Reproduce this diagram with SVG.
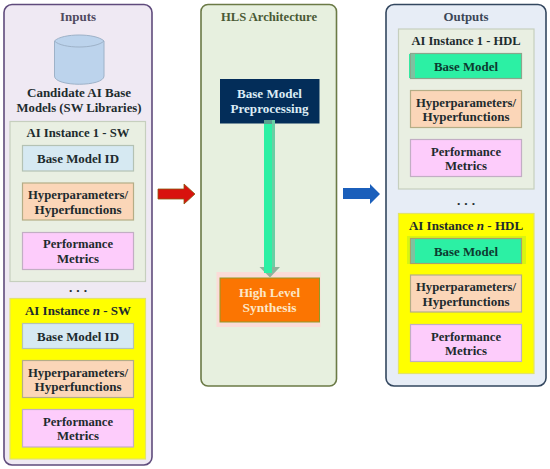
<svg xmlns="http://www.w3.org/2000/svg" width="550" height="469" viewBox="0 0 550 469">
<style>
text{font-family:"Liberation Serif","DejaVu Serif",serif;font-weight:bold;font-size:13.5px;text-anchor:middle;fill:#1d2b2e}
.panel{stroke-width:1.6}
.inst{fill:#e9efe2;stroke:#c6cfbe;stroke-width:1.2}
.instn{fill:#ffff00;stroke:#e3e36a;stroke-width:1.2}
.id{fill:#d6e9f2;stroke:#b4c2b4;stroke-width:1.2}
.hyp{fill:#fbd6b8;stroke:#b5ad86;stroke-width:1.2}
.perf{fill:#fdccfb;stroke:#c2aec4;stroke-width:1.2}
.bm{fill:#2cf0a4;stroke:#8aa68c;stroke-width:1.2}
.it{font-size:13px}
</style>
<g id="inputs">
<rect class="panel" x="4" y="4.500" width="148" height="460.500" rx="8" fill="#efe9f3" stroke="#5f4b7c"/>
<text x="78" y="21" textLength="36" lengthAdjust="spacingAndGlyphs" style="fill:#4f4a60">Inputs</text>
</g>
<g id="cylinder">
<path d="M54.500 41C62 33 96 33 104 41V76C104 87 54.500 87 54.500 76Z" fill="#bcd3ec" stroke="#9eb2c8" stroke-width="1"/>
<path d="M54.500 41C62 49 96 49 104 41" fill="none" stroke="#9eb2c8" stroke-width="1"/>
<text x="79" y="97" textLength="104" lengthAdjust="spacingAndGlyphs">Candidate AI Base</text>
<text x="79" y="111.500" textLength="125" lengthAdjust="spacingAndGlyphs">Models (SW Libraries)</text>
</g>
<g id="instance-1-sw">
<rect class="inst" x="10" y="121.500" width="135.500" height="160"/>
<text x="78" y="137" textLength="103" lengthAdjust="spacingAndGlyphs">AI Instance 1 - SW</text>
<rect class="id" x="22.500" y="145.500" width="111" height="25.500"/>
<text x="78" y="163" textLength="82" lengthAdjust="spacingAndGlyphs">Base Model ID</text>
<rect class="hyp" x="22.500" y="183" width="111" height="37"/>
<text x="78" y="199" textLength="100" lengthAdjust="spacingAndGlyphs">Hyperparameters/</text>
<text x="78" y="213.500" textLength="87" lengthAdjust="spacingAndGlyphs">Hyperfunctions</text>
<rect class="perf" x="22.500" y="232.500" width="111" height="37"/>
<text x="78" y="248" textLength="70" lengthAdjust="spacingAndGlyphs">Performance</text>
<text x="78" y="262.500" textLength="42" lengthAdjust="spacingAndGlyphs">Metrics</text>
</g>
<text x="78" y="292" textLength="18">. . .</text>
<g id="instance-n-sw">
<rect class="instn" x="10" y="298.500" width="135.500" height="160.500"/>
<text class="it" x="78" y="314.500">AI Instance <tspan font-style="italic">n</tspan> - SW</text>
<rect class="id" x="22.500" y="323.500" width="111" height="25"/>
<text x="78" y="340.500" textLength="82" lengthAdjust="spacingAndGlyphs">Base Model ID</text>
<rect class="hyp" x="22.500" y="360.500" width="111" height="37"/>
<text x="78" y="376.500" textLength="100" lengthAdjust="spacingAndGlyphs">Hyperparameters/</text>
<text x="78" y="391" textLength="87" lengthAdjust="spacingAndGlyphs">Hyperfunctions</text>
<rect class="perf" x="22.500" y="409.500" width="111" height="37.500"/>
<text x="78" y="425.500" textLength="70" lengthAdjust="spacingAndGlyphs">Performance</text>
<text x="78" y="440" textLength="42" lengthAdjust="spacingAndGlyphs">Metrics</text>
</g>
<g id="hls">
<rect class="panel" x="201" y="4.500" width="135.500" height="381.500" rx="7" fill="#e7f0df" stroke="#6b7a46"/>
<text x="269" y="21" textLength="96" lengthAdjust="spacingAndGlyphs" style="fill:#4a5a35">HLS Architecture</text>
</g>
<g id="base-model-preprocessing">
<rect x="220" y="79" width="99.500" height="44.500" fill="#032d59"/>
<text x="269.500" y="98" textLength="65" lengthAdjust="spacingAndGlyphs" style="fill:#dcecf5">Base Model</text>
<text x="269.500" y="113" textLength="78" lengthAdjust="spacingAndGlyphs" style="fill:#dcecf5">Preprocessing</text>
</g>
<g id="high-level-synthesis">
<rect x="216.500" y="272" width="104" height="55" fill="#fbdcd8"/>
<rect x="220" y="278" width="99.500" height="44" fill="#fb7502" stroke="#8f9a2a" stroke-width="1"/>
<text x="269.500" y="297" textLength="61" lengthAdjust="spacingAndGlyphs" style="fill:#fbe7c8">High Level</text>
<text x="269.500" y="312" textLength="54" lengthAdjust="spacingAndGlyphs" style="fill:#fbe7c8">Synthesis</text>
</g>
<g id="outputs">
<rect class="panel" x="386" y="4.500" width="160" height="381.500" rx="8" fill="#e7edf6" stroke="#33475f"/>
<text x="466" y="21" textLength="45" lengthAdjust="spacingAndGlyphs" style="fill:#3b4656">Outputs</text>
</g>
<g id="instance-1-hdl">
<rect class="inst" x="398.500" y="29" width="135.500" height="160"/>
<text x="466" y="45" textLength="109" lengthAdjust="spacingAndGlyphs">AI Instance 1 - HDL</text>
<rect x="409" y="54" width="3" height="24" fill="#2cf0a4"/>
<rect class="bm" x="410.500" y="53.500" width="111" height="25"/>
<rect x="411" y="54" width="4" height="24" fill="#7fc0a0"/>
<text x="466" y="71" textLength="64" lengthAdjust="spacingAndGlyphs" style="fill:#0c3a30">Base Model</text>
<rect class="hyp" x="410.500" y="90.500" width="111" height="37"/>
<text x="466" y="106.500" textLength="100" lengthAdjust="spacingAndGlyphs">Hyperparameters/</text>
<text x="466" y="121" textLength="87" lengthAdjust="spacingAndGlyphs">Hyperfunctions</text>
<rect class="perf" x="410.500" y="139.500" width="111" height="37"/>
<text x="466" y="155.500" textLength="70" lengthAdjust="spacingAndGlyphs">Performance</text>
<text x="466" y="170" textLength="42" lengthAdjust="spacingAndGlyphs">Metrics</text>
</g>
<text x="466" y="205" textLength="18">. . .</text>
<g id="instance-n-hdl">
<rect class="instn" x="398.500" y="213.500" width="135.500" height="160"/>
<text class="it" x="466" y="229.500">AI Instance <tspan font-style="italic">n</tspan> - HDL</text>
<rect x="407" y="236" width="119" height="28" fill="#d8f510"/>
<rect class="bm" x="410.500" y="238.500" width="111" height="25" style="stroke:#a9a06a"/>
<rect x="411" y="239" width="4" height="24" fill="#7fc0a0"/>
<text x="466" y="255.500" textLength="64" lengthAdjust="spacingAndGlyphs" style="fill:#0c3a30">Base Model</text>
<rect class="hyp" x="410.500" y="275" width="111" height="37"/>
<text x="466" y="291" textLength="100" lengthAdjust="spacingAndGlyphs">Hyperparameters/</text>
<text x="466" y="305.500" textLength="87" lengthAdjust="spacingAndGlyphs">Hyperfunctions</text>
<rect class="perf" x="410.500" y="324.500" width="111" height="37"/>
<text x="466" y="340.500" textLength="70" lengthAdjust="spacingAndGlyphs">Performance</text>
<text x="466" y="355" textLength="42" lengthAdjust="spacingAndGlyphs">Metrics</text>
</g>
<g id="connectors">
<path d="M158 189H184V184L195 194L184 204V199H158Z" fill="#d8120e" stroke="#8a5a10" stroke-width="0.800"/>
<path d="M343 188H370V184L380 194L370 204V199H343Z" fill="#1b5fbb"/>
<rect x="264" y="120" width="11" height="147" fill="#68cfa4"/>
<rect x="264" y="120" width="8" height="147" fill="#2cf0a4"/>
<rect x="264" y="120" width="8" height="4" fill="#5d9f90"/>
<path d="M259.500 267H280L270 277.500Z" fill="#8fb29c"/>
<path d="M264 267H272V273H264Z" fill="#2cf0a4"/>
</g>
</svg>
